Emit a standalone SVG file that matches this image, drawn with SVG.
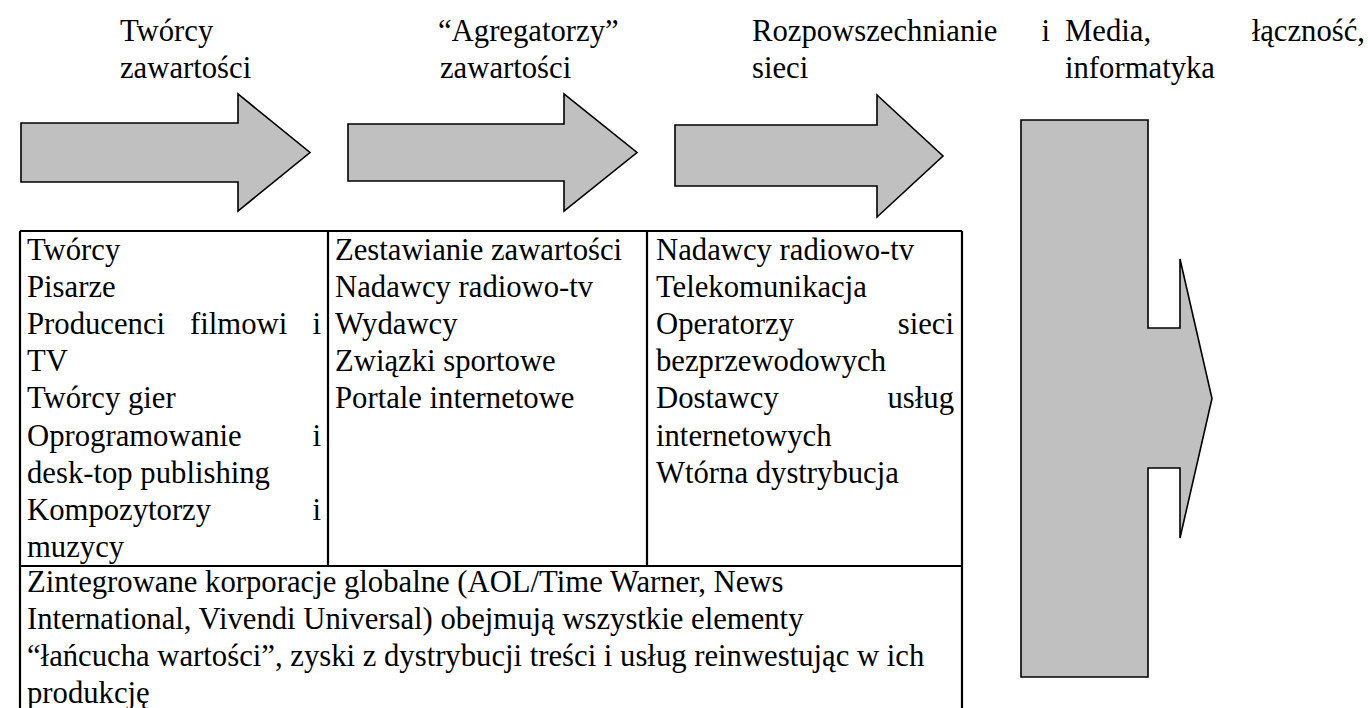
<svg xmlns="http://www.w3.org/2000/svg" width="1368" height="708" viewBox="0 0 1368 708">
<style>
text{font-family:"Liberation Serif","Times New Roman",serif;font-size:30.7px;fill:#000}
.shape{fill:#c0c0c0;stroke:#000;stroke-width:1.6;stroke-linejoin:miter}
.grid{stroke:#000;stroke-width:2.2;fill:none}
.e{text-anchor:end}
</style>
<rect width="1368" height="708" fill="#fff"/>
<g id="headers">
<text x="120" y="41">Twórcy</text><text x="120" y="78">zawartości</text>
<text x="438" y="41">“Agregatorzy”</text><text x="440" y="78">zawartości</text>
<text x="752" y="41">Rozpowszechnianie</text><text class="e" x="1050" y="41">i</text><text x="752" y="78">sieci</text>
<text x="1065" y="41">Media,</text><text class="e" x="1365" y="41">łączność,</text><text x="1065" y="78">informatyka</text>
</g>
<g id="connectors">
<polygon id="arrow1" class="shape" points="21,123 238,123 238,94 310,152.5 238,211 238,182 21,182"/>
<polygon id="arrow2" class="shape" points="348,124 564,124 564,94 637,152.5 564,211 564,181 348,181"/>
<polygon id="arrow3" class="shape" points="675,125 877,125 877,95 943,156 877,217 877,186 675,186"/>
</g>
<g id="bigArrow">
<polygon class="shape" points="1021,120 1148,120 1148,328 1180,328 1180,259 1212,398.5 1180,538 1180,468 1148,468 1148,677 1021,677"/>
</g>
<g id="table">
<path class="grid" d="M20,231 H962 M20,231 V710 M962,231 V710 M328,231 V566 M647,231 V566 M20,566 H962"/>
</g>
<g id="col1">
<text x="27" y="260">Twórcy</text>
<text x="27" y="297.1">Pisarze</text>
<text x="27" y="334.2">Producenci</text><text x="190" y="334.2">filmowi</text><text class="e" x="321" y="334.2">i</text>
<text x="27" y="371.3">TV</text>
<text x="27" y="408.4">Twórcy gier</text>
<text x="27" y="445.5">Oprogramowanie</text><text class="e" x="321" y="445.5">i</text>
<text x="27" y="482.6">desk-top publishing</text>
<text x="27" y="519.7">Kompozytorzy</text><text class="e" x="321" y="519.7">i</text>
<text x="27" y="556.8">muzycy</text>
</g>
<g id="col2">
<text x="335" y="260">Zestawianie zawartości</text>
<text x="335" y="297.1">Nadawcy radiowo-tv</text>
<text x="335" y="334.2">Wydawcy</text>
<text x="335" y="371.3">Związki sportowe</text>
<text x="335" y="408.4">Portale internetowe</text>
</g>
<g id="col3">
<text x="656" y="260">Nadawcy radiowo-tv</text>
<text x="656" y="297.1">Telekomunikacja</text>
<text x="656" y="334.2">Operatorzy</text><text class="e" x="954" y="334.2">sieci</text>
<text x="656" y="371.3">bezprzewodowych</text>
<text x="656" y="408.4">Dostawcy</text><text class="e" x="954" y="408.4">usług</text>
<text x="656" y="445.5">internetowych</text>
<text x="656" y="482.6">Wtórna dystrybucja</text>
</g>
<g id="bottom">
<text x="27" y="592">Zintegrowane korporacje globalne (AOL/Time Warner, News</text>
<text x="27" y="629">International, Vivendi Universal) obejmują wszystkie elementy</text>
<text x="27" y="666">“łańcucha wartości”, zyski z dystrybucji treści i usług reinwestując w ich</text>
<text x="27" y="703">produkcję</text>
</g>
</svg>
